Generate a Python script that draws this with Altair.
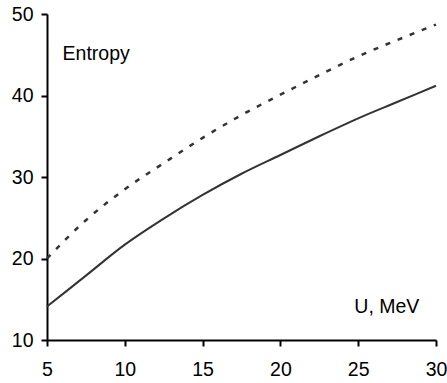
import altair as alt
import pandas as pd

u_vals = [5, 7.5, 10, 12.5, 15, 17.5, 20, 22.5, 25, 27.5, 30]
solid_vals = [14.1, 17.9, 21.7, 24.9, 27.8, 30.4, 32.7, 35.0, 37.2, 39.2, 41.2]
dashed_vals = [20.0, 24.7, 28.5, 31.7, 34.8, 37.6, 40.1, 42.5, 44.8, 46.8, 48.7]

x_ticks = [5, 10, 15, 20, 25, 30]
y_ticks = [10, 20, 30, 40, 50]

labels = pd.DataFrame({
    "x": [6.0, 24.75],
    "y": [44.3, 13.3],
    "text": ["Entropy", "U, MeV"],
})

df = pd.DataFrame({
    "u": u_vals * 2,
    "s": solid_vals + dashed_vals,
    "series": ["solid"] * len(u_vals) + ["dashed"] * len(u_vals),
})

FONT = "Liberation Sans"
FS = 19.5

xs = alt.Scale(domain=[5, 30], nice=False, zero=False)
ys = alt.Scale(domain=[10, 50], nice=False, zero=False)

xaxis = alt.Axis(values=x_ticks, grid=False, title=None, domainColor="black",
                 domainWidth=2, tickColor="black", tickWidth=2, tickSize=6,
                 labelFont=FONT, labelFontSize=FS, labelColor="black",
                 labelPadding=14, labelFlush=False, labelOverlap=False)
yaxis = alt.Axis(values=y_ticks, grid=False, title=None, domainColor="black",
                 domainWidth=2, tickColor="black", tickWidth=2, tickSize=6,
                 labelFont=FONT, labelFontSize=FS, labelColor="black",
                 labelPadding=8, labelFlush=False, labelOverlap=False)

solid = alt.Chart(df).transform_filter(alt.datum.series == "solid").mark_line(
    color="#333333", strokeWidth=2, interpolate="monotone"
).encode(
    x=alt.X("u:Q", scale=xs, axis=xaxis),
    y=alt.Y("s:Q", scale=ys, axis=yaxis),
)

dashed = alt.Chart(df).transform_filter(alt.datum.series == "dashed").mark_line(
    color="#333333", strokeWidth=2.5, strokeDash=[5, 8], interpolate="monotone"
).encode(
    x=alt.X("u:Q", scale=xs),
    y=alt.Y("s:Q", scale=ys),
)

text = alt.Chart(labels).mark_text(
    font=FONT, fontSize=FS, color="black", align="left", baseline="alphabetic"
).encode(
    x=alt.X("x:Q", scale=xs),
    y=alt.Y("y:Q", scale=ys),
    text="text:N",
)

chart = alt.layer(solid, dashed, text).properties(
    width=389, height=326,
    autosize=alt.AutoSizeParams(type="none"),
    padding={"left": 47, "top": 14, "right": 11, "bottom": 43},
    background="white",
).configure_view(stroke=None)

chart.save("out.html", embed_options={"renderer": "svg", "actions": False})
